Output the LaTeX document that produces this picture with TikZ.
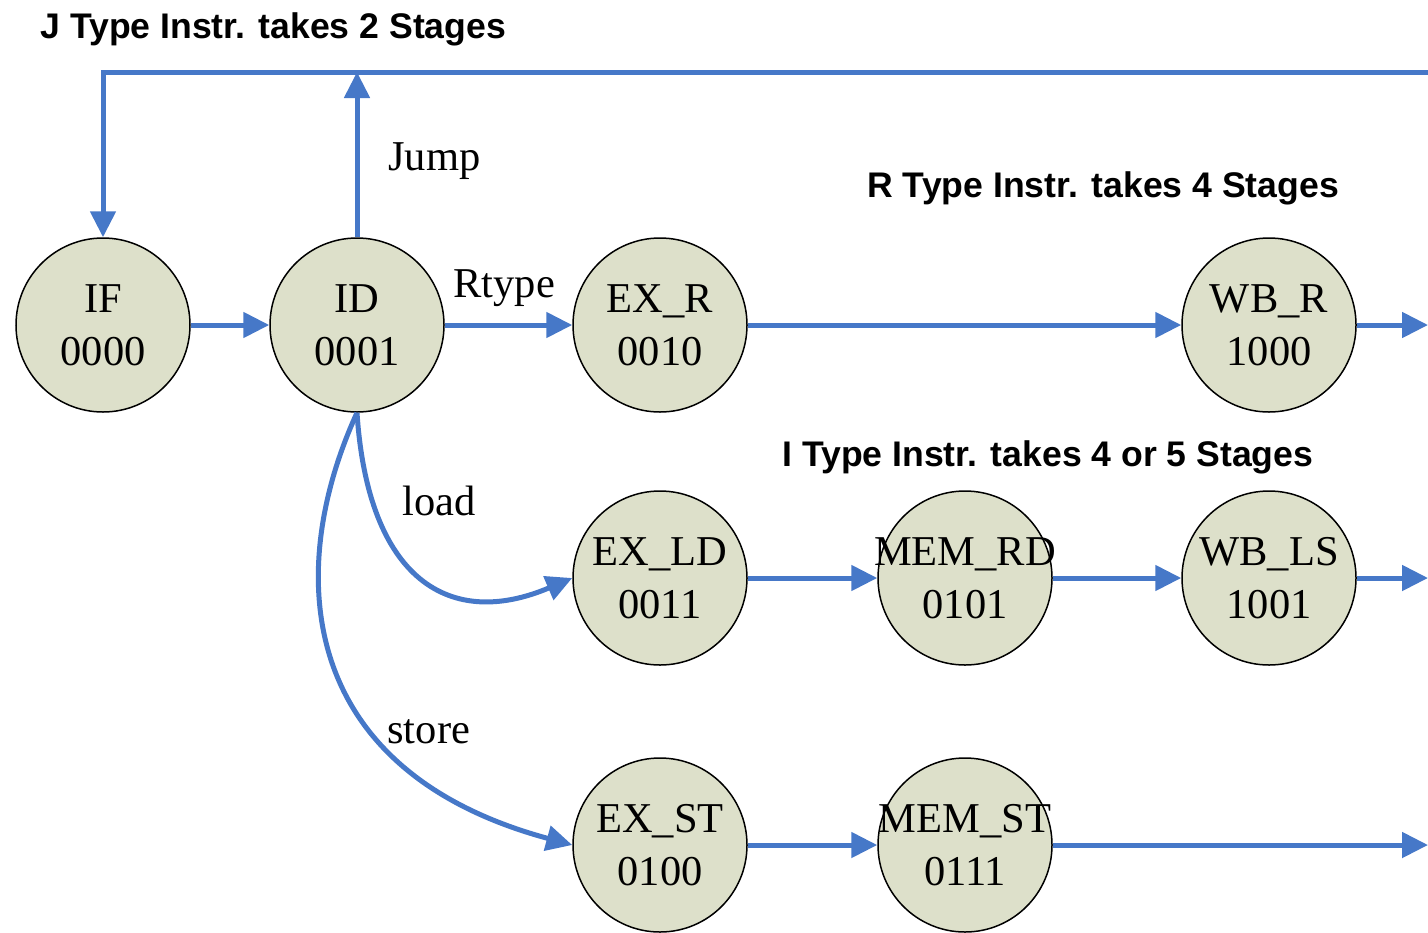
\documentclass[tikz,border=0pt]{standalone}
\usepackage{fontspec}
\setmainfont{Liberation Serif}
\newfontfamily\titlefont{Liberation Sans}
\usetikzlibrary{arrows.meta}
\definecolor{flowblue}{RGB}{70,120,200}
\definecolor{statefill}{RGB}{221,224,202}
\newcommand{\sttext}[2]{\makebox[0pt]{#1}\\\makebox[0pt]{#2}}
\begin{document}
\begin{tikzpicture}[x=0.5pt,y=-0.5pt,
  state/.style={circle, draw=black, line width=0.75pt, fill=statefill, minimum size=87pt, inner sep=0pt, align=center, font=\fontsize{21.25pt}{26.5pt}\selectfont},
  flow/.style={draw=flowblue, line width=2.5pt, -{Triangle[length=13pt,width=12.5pt]}},
  title/.style={anchor=base west, inner sep=0pt, font=\titlefont\bfseries\fontsize{17.8pt}{20pt}\selectfont},
  lbl/.style={anchor=base west, inner sep=0pt, font=\fontsize{21.25pt}{26pt}\selectfont}]
\useasboundingbox (0,0) rectangle (1428,932);

% states
\node[state] (IF)   at (103,325) {\sttext{IF}{0000}};
\node[state] (ID)   at (357,325) {\sttext{ID}{0001}};
\node[state] (EXR)  at (660,325) {\sttext{EX\_R}{0010}};
\node[state] (WBR)  at (1269,325) {\sttext{WB\_R}{1000}};
\node[state] (EXLD) at (660,578) {\sttext{EX\_LD}{0011}};
\node[state] (MEMRD) at (965,578) {\sttext{MEM\_RD}{0101}};
\node[state] (WBLS) at (1269,578) {\sttext{WB\_LS}{1001}};
\node[state] (EXST) at (660,845) {\sttext{EX\_ST}{0100}};
\node[state] (MEMST) at (965,845) {\sttext{MEM\_ST}{0111}};

% free ends at the right border
\coordinate (jr) at (1428,72);
\coordinate (rR) at (1428,325);
\coordinate (rLS) at (1428,578);
\coordinate (rST) at (1428,845);

% titles
\node[title] (tJ) at (40,38) {J Type Instr. takes 2 Stages};
\node[title] (tR) at (867,197) {R Type Instr. takes 4 Stages};
\node[title] (tI) at (782,466) {I Type Instr. takes 4 or 5 Stages};

% edge labels
\node[lbl] (lJump)  at (388,170) {Jump};
\node[lbl] (lRtype) at (453,297) {Rtype};
\node[lbl] (lLoad)  at (402,515) {load};
\node[lbl] (lStore) at (387,743) {store};

% connectors
\draw[flow] (jr) -| (IF.north);
\draw[flow] (ID.north) -- (ID.north |- jr);
\draw[flow] (IF) -- (ID);
\draw[flow] (ID) -- (EXR);
\draw[flow] (EXR) -- (WBR);
\draw[flow] (WBR) -- (rR);
\draw[flow] (ID.south) .. controls (368,580) and (450,630) .. (EXLD.west);
\draw[flow] (EXLD) -- (MEMRD);
\draw[flow] (MEMRD) -- (WBLS);
\draw[flow] (WBLS) -- (rLS);
\draw[flow] (ID.south) .. controls (285,570) and (295,770) .. (EXST.west);
\draw[flow] (EXST) -- (MEMST);
\draw[flow] (MEMST) -- (rST);
\end{tikzpicture}
\end{document}
